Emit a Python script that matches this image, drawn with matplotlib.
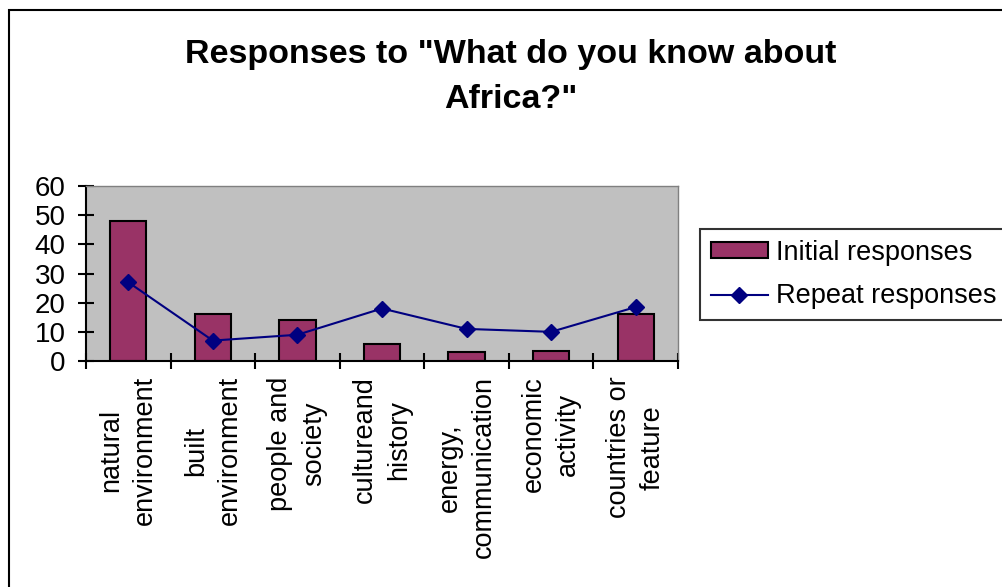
import numpy as np
import matplotlib
matplotlib.use("Agg")
import matplotlib.pyplot as plt
from matplotlib.patches import Rectangle

plt.rcParams['font.family'] = ['Liberation Sans', 'DejaVu Sans']

# Response counts per category
categories = ["natural\nenvironment", "built\nenvironment", "people and\nsociety",
              "cultureand\nhistory", "energy,\ncommunication", "economic\nactivity",
              "countries or\nfeature"]
initial = [48, 16, 14, 6, 3, 3.5, 16]
repeat = [27, 7, 9, 18, 11, 10, 18.5]
y_ticks = [0, 10, 20, 30, 40, 50, 60]

fig = plt.figure(figsize=(10.03, 5.87), dpi=100)
fig.patch.set_facecolor("white")

# outer chart frame
fig.patches.append(Rectangle((9 / 1003, -0.05), 1.2, 1 - 10 / 587 + 0.05,
                             transform=fig.transFigure, fill=False,
                             edgecolor="black", linewidth=1.5))

ax = fig.add_axes([86 / 1003, 1 - 361 / 587, (678 - 86) / 1003, (361 - 186) / 587])
ax.set_facecolor("#C0C0C0")

x = np.arange(len(categories))
bars = ax.bar(x, initial, width=0.43, color="#993366", edgecolor="black",
              linewidth=1.5, label="Initial responses", zorder=2)
line, = ax.plot(x, repeat, color="#000080", linewidth=1.5, marker="D", markersize=8,
                label="Repeat responses", zorder=3)

ax.set_xlim(-0.5, len(categories) - 0.5)
ax.set_ylim(0, 60)
ax.set_yticks(y_ticks)
ax.tick_params(axis="y", direction="inout", length=12, width=1.5,
               labelsize=20, pad=8.5)

ax.set_xticks(x)
ax.set_xticklabels(categories, rotation=90, ha="center", va="top",
                   multialignment="center", linespacing=1.4)
ax.tick_params(axis="x", which="major", length=0, labelsize=19.5, pad=11)
ax.set_xticks(np.arange(-0.5, len(categories)), minor=True)
ax.tick_params(axis="x", which="minor", direction="inout", length=12, width=1.5)

for side in ("left", "bottom"):
    ax.spines[side].set_color("black")
    ax.spines[side].set_linewidth(1.5)
for side in ("top", "right"):
    ax.spines[side].set_color("#808080")
    ax.spines[side].set_linewidth(1.0)

fig.text(511 / 1003, 1 - 39 / 587, 'Responses to "What do you know about\nAfrica?"',
         ha="center", va="top", fontsize=24.5, fontweight="bold", linespacing=1.6)

leg = ax.legend([bars, line], ["Initial responses", "Repeat responses"],
                loc="upper left", bbox_to_anchor=(700 / 1003, 1 - 229 / 587),
                bbox_transform=fig.transFigure, fontsize=19.5, frameon=True,
                fancybox=False, handlelength=2.1, handleheight=0.55,
                handletextpad=0.3, borderpad=0.4, labelspacing=0.65,
                borderaxespad=0)
leg.get_frame().set_edgecolor("black")
leg.get_frame().set_linewidth(1.5)

fig.savefig("out.png", dpi=100)
